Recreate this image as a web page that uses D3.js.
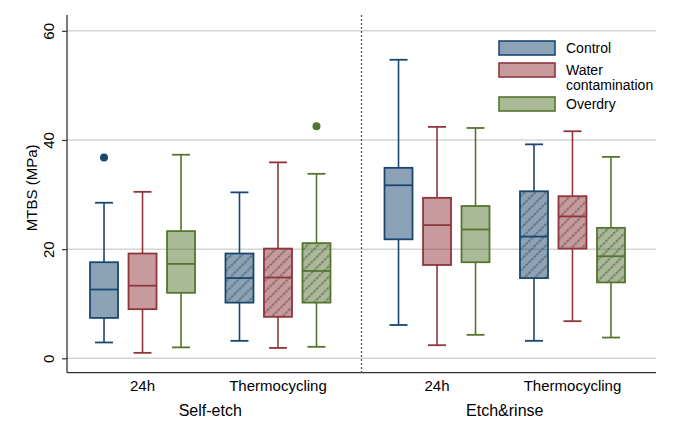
<!DOCTYPE html>
<html><head><meta charset="utf-8">
<script src="https://cdn.jsdelivr.net/npm/d3@7"></script>
<style>
html,body{margin:0;padding:0;background:#fff;}
text{font-family:"Liberation Sans",Arial,sans-serif;fill:#000;}
</style></head>
<body><svg id="chart" width="685" height="441"></svg>
<script>
// ---- data ----
const groups = ["Self-etch", "Etch&rinse"];
const times = ["24h", "Thermocycling"];
const series = ["Control", "Water contamination", "Overdry"];
const yTicks = [0, 20, 40, 60];
// five-number summaries [lowWhisker, Q1, median, Q3, highWhisker]
// order: Self-etch 24h, Self-etch Thermocycling, Etch&rinse 24h, Etch&rinse Thermocycling
const controlStats = [[2.9, 7.4, 12.6, 17.6, 28.5], [3.2, 10.2, 14.7, 19.2, 30.4], [6.1, 21.8, 31.7, 34.9, 54.7], [3.2, 14.7, 22.3, 30.6, 39.2]];
const waterStats   = [[1.0, 9.0, 13.3, 19.2, 30.5], [1.9, 7.6, 14.8, 20.1, 35.9], [2.4, 17.1, 24.4, 29.4, 42.4], [6.8, 20.1, 26.0, 29.7, 41.6]];
const overdryStats = [[2.0, 12.0, 17.3, 23.3, 37.3], [2.1, 10.2, 16.0, 21.1, 33.8], [4.3, 17.6, 23.6, 27.9, 42.2], [3.8, 13.9, 18.7, 23.9, 36.9]];
const outlierSeries = ["Control", "Overdry"];
const outlierGroup = ["Self-etch", "Self-etch"];
const outlierTime = ["24h", "Thermocycling"];
const outlierValue = [36.8, 42.5];

const strokeColors = ["#1a476f", "#90353b", "#55752f"];

// ---- layout ----
const svg = d3.select("#chart");
const pLeft = 67, pRight = 656, pTop = 15, pBottom = 372.7;

const y = d3.scaleLinear().domain([-2.64, 62.9]).range([pBottom, pTop]);
const xOuter = d3.scaleBand().domain(groups).range([63, 652]).padding(0);
const xInner = d3.scalePoint().domain(times).range([0, xOuter.bandwidth()]).padding(0.587);
const xSeries = d3.scalePoint().domain(series).range([-38.5, 38.5]);
const color = d3.scaleOrdinal().domain(series).range(strokeColors);
const boxW = 28, capW = 18;

const defs = svg.append("defs");
defs.append("pattern").attr("id", "hatch").attr("patternUnits", "userSpaceOnUse")
  .attr("width", 7.5).attr("height", 7.5).attr("patternTransform", "rotate(45)")
  .append("line").attr("x1", 2).attr("y1", 0).attr("x2", 2).attr("y2", 7.5)
  .attr("stroke", "rgba(55,55,55,0.45)").attr("stroke-width", 2).attr("stroke-dasharray", "2.5,1");

// gridlines
svg.append("g").selectAll("line").data(yTicks).join("line")
  .attr("x1", pLeft).attr("x2", pRight).attr("y1", d => y(d)).attr("y2", d => y(d))
  .attr("stroke", "#d4d4d4").attr("stroke-width", 1.5);

// y axis
const yAxis = svg.append("g").attr("transform", `translate(${pLeft},0)`)
  .call(d3.axisLeft(y).tickValues(yTicks).tickSize(5).tickPadding(5));
yAxis.select(".domain").attr("stroke", "#333").attr("stroke-width", 1.3).attr("d", `M-0,${pTop}V${pBottom}`);
yAxis.selectAll(".tick line").attr("stroke", "#333").attr("stroke-width", 1.2);
yAxis.selectAll(".tick text").attr("font-size", 15).attr("font-family", "Liberation Sans, Arial, sans-serif")
  .attr("transform", "rotate(-90)").attr("x", 0).attr("y", -13).attr("dy", 0).attr("text-anchor", "middle");

svg.append("text").attr("transform", `translate(37,${(pTop + pBottom) / 2 - 6}) rotate(-90)`)
  .attr("text-anchor", "middle").attr("font-size", 15).text("MTBS (MPa)");

// x axis
svg.append("line").attr("x1", pLeft).attr("x2", pRight).attr("y1", pBottom).attr("y2", pBottom)
  .attr("stroke", "#333").attr("stroke-width", 1.3);

// divider
svg.append("line").attr("x1", (pLeft + pRight) / 2).attr("x2", (pLeft + pRight) / 2)
  .attr("y1", pTop).attr("y2", pBottom).attr("stroke", "#555").attr("stroke-width", 1.3).attr("stroke-dasharray", "2,2");

// x labels
groups.forEach(g => {
  times.forEach(t => {
    svg.append("text").attr("x", xOuter(g) + xInner(t)).attr("y", 391)
      .attr("text-anchor", "middle").attr("font-size", 15).text(t);
  });
  svg.append("text").attr("x", xOuter(g) + (xInner(times[0]) + xInner(times[1])) / 2).attr("y", 416)
    .attr("text-anchor", "middle").attr("font-size", 16).text(g);
});

// boxes
const statsBySeries = [controlStats, waterStats, overdryStats];
const cells = [];
groups.forEach(g => times.forEach(t => cells.push({g, t})));
const boxes = [];
series.forEach((s, si) => cells.forEach((c, ci) => {
  const st = statsBySeries[si][ci];
  boxes.push({s, g: c.g, t: c.t, lo: st[0], q1: st[1], med: st[2], q3: st[3], hi: st[4]});
}));

const bg = svg.append("g").selectAll("g").data(boxes).join("g")
  .attr("transform", d => `translate(${xOuter(d.g) + xInner(d.t) + xSeries(d.s)},0)`);
// whiskers
bg.append("line").attr("x1", 0).attr("x2", 0).attr("y1", d => y(d.hi)).attr("y2", d => y(d.q3))
  .attr("stroke", d => color(d.s)).attr("stroke-width", 1.6);
bg.append("line").attr("x1", 0).attr("x2", 0).attr("y1", d => y(d.q1)).attr("y2", d => y(d.lo))
  .attr("stroke", d => color(d.s)).attr("stroke-width", 1.6);
bg.append("line").attr("x1", -capW / 2).attr("x2", capW / 2).attr("y1", d => y(d.hi)).attr("y2", d => y(d.hi))
  .attr("stroke", d => color(d.s)).attr("stroke-width", 1.8);
bg.append("line").attr("x1", -capW / 2).attr("x2", capW / 2).attr("y1", d => y(d.lo)).attr("y2", d => y(d.lo))
  .attr("stroke", d => color(d.s)).attr("stroke-width", 1.8);
// box
bg.append("rect").attr("x", -boxW / 2).attr("width", boxW)
  .attr("y", d => y(d.q3)).attr("height", d => y(d.q1) - y(d.q3))
  .attr("fill", d => color(d.s)).attr("fill-opacity", 0.5);
bg.filter(d => d.t === "Thermocycling").append("rect").attr("x", -boxW / 2).attr("width", boxW)
  .attr("y", d => y(d.q3)).attr("height", d => y(d.q1) - y(d.q3)).attr("fill", "url(#hatch)");
bg.append("rect").attr("x", -boxW / 2).attr("width", boxW)
  .attr("y", d => y(d.q3)).attr("height", d => y(d.q1) - y(d.q3))
  .attr("fill", "none").attr("stroke", d => color(d.s)).attr("stroke-width", 1.8);
bg.append("line").attr("x1", -boxW / 2).attr("x2", boxW / 2).attr("y1", d => y(d.med)).attr("y2", d => y(d.med))
  .attr("stroke", d => color(d.s)).attr("stroke-width", 1.8);

// outliers
svg.append("g").selectAll("circle").data(outlierValue).join("circle")
  .attr("cx", (v, i) => xOuter(outlierGroup[i]) + xInner(outlierTime[i]) + xSeries(outlierSeries[i]))
  .attr("cy", v => y(v)).attr("r", 4)
  .attr("fill", (v, i) => color(outlierSeries[i]));

// legend
const legendLabels = [["Control"], ["Water", "contamination"], ["Overdry"]];
const legendY = [41, 63, 97];
const lg = svg.append("g");
series.forEach((s, i) => {
  lg.append("rect").attr("x", 499).attr("y", legendY[i]).attr("width", 56).attr("height", 14)
    .attr("fill", color(s)).attr("fill-opacity", 0.5).attr("stroke", color(s)).attr("stroke-width", 1.6);
  legendLabels[i].forEach((l, j) => {
    lg.append("text").attr("x", 566).attr("y", legendY[i] + 11.5 + j * 15).attr("font-size", 14).text(l);
  });
});
</script></body></html>
